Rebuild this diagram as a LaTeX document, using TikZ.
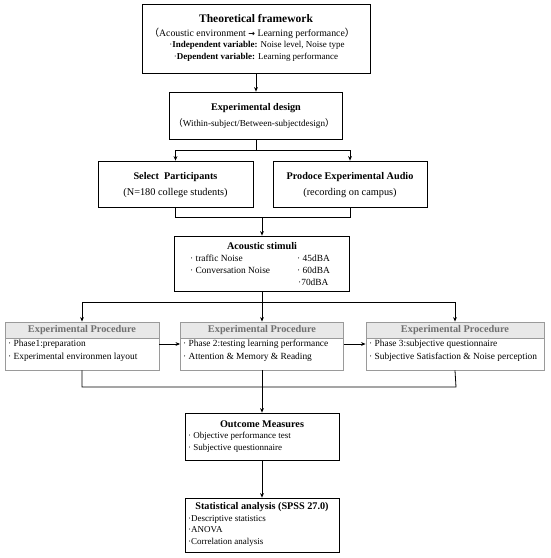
\documentclass[tikz,border=0pt]{standalone}
\usepackage{fontspec}
\setmainfont{Liberation Serif}
\newfontfamily\cjk{Noto Sans CJK SC}
\newfontfamily\arrowfont{DejaVu Sans}
\usetikzlibrary{arrows.meta}
\definecolor{hdrfill}{HTML}{E8E8E8}
\definecolor{hdrtext}{HTML}{707070}
\definecolor{procline}{HTML}{9A9A9A}
\begin{document}
\begin{tikzpicture}[x=1pt,y=-1pt,
  box/.style={draw=black, line width=0.8pt, inner sep=0pt, fill=white},
  proc/.style={draw=procline, line width=0.9pt, inner sep=0pt, fill=white},
  hdr/.style={draw=procline, line width=0.9pt, inner sep=0pt, fill=hdrfill, text=hdrtext, font=\bfseries\fontsize{10.3}{11}\selectfont},
  conn/.style={line width=0.8pt},
  arr/.style={conn, -{Stealth[length=4.5pt,width=3.8pt]}},
  ttl/.style={inner sep=0pt, font=\bfseries\fontsize{10.2}{11}\selectfont},
  bigttl/.style={inner sep=0pt, font=\bfseries\fontsize{11.5}{13}\selectfont},
  subtxt/.style={inner sep=0pt, font=\fontsize{10.3}{11}\selectfont},
  stxt/.style={inner sep=0pt, font=\fontsize{9}{10}\selectfont},
  ptxt/.style={inner sep=0pt, anchor=west, font=\fontsize{9.4}{10}\selectfont},
  ltxt/.style={inner sep=0pt, anchor=west, font=\fontsize{9.4}{10}\selectfont},
  mtxt/.style={inner sep=0pt, anchor=west, font=\fontsize{9}{10}\selectfont}
]
\useasboundingbox (0,0) rectangle (550,558);

% boxes
\node[box, minimum width=228pt, minimum height=69pt] (b1) at (256,38.5) {};
\node[box, minimum width=173pt, minimum height=47pt] (b2) at (256,115.5) {};
\node[box, minimum width=155pt, minimum height=46pt] (b3) at (175.5,184) {};
\node[box, minimum width=154pt, minimum height=46pt] (b4) at (350,184) {};
\node[box, minimum width=175pt, minimum height=55pt] (b5) at (262,263.5) {};
\node[proc, minimum width=154pt, minimum height=48pt] (b6) at (82,346) {};
\node[proc, minimum width=163pt, minimum height=48pt] (b7) at (262,346) {};
\node[proc, minimum width=178pt, minimum height=48pt] (b8) at (455,346) {};
\node[hdr, minimum width=154pt, minimum height=16pt, anchor=north] (h6) at (b6.north) {Experimental Procedure};
\node[hdr, minimum width=163pt, minimum height=16pt, anchor=north] (h7) at (b7.north) {Experimental Procedure};
\node[hdr, minimum width=178pt, minimum height=16pt, anchor=north] (h8) at (b8.north) {Experimental Procedure};
\node[box, minimum width=154pt, minimum height=47pt] (b9) at (262,436.5) {};
\node[box, minimum width=154pt, minimum height=54pt] (b10) at (262,525) {};

% texts box 1
\node[bigttl] (t1a) at (256,19) {Theoretical framework};
\node[inner sep=0pt, font=\fontsize{9.8}{10}\selectfont] (t1b) at (252,33) {{\cjk （}Acoustic environment {\arrowfont\bfseries\fontsize{8}{10}\selectfont →} Learning performance{\cjk ）}};
\node[stxt] (t1c) at (257,45.5) {·\textbf{Independent variable:} Noise level, Noise type};
\node[stxt] (t1d) at (256,57.5) {·\textbf{Dependent variable:} Learning performance};

% box 2
\node[ttl] (t2a) at (256,108) {Experimental design};
\node[inner sep=0pt, font=\fontsize{9.2}{10}\selectfont] (t2b) at (254,124) {{\cjk （}Within-subject/Between-subjectdesign{\cjk ）}};

% box 3, 4
\node[ttl] (t3a) at (175.5,177) {Select\ \ Participants};
\node[subtxt] (t3b) at (175.5,193) {(N=180 college students)};
\node[ttl] (t4a) at (350,177) {Prodoce Experimental Audio};
\node[subtxt] (t4b) at (350,193) {(recording on campus)};

% box 5
\node[ttl] (t5a) at (262,246) {Acoustic stimuli};
\node[ltxt] (t5b) at (190,258) {· traffic Noise};
\node[ltxt] (t5c) at (190,270) {· Conversation Noise};
\node[ltxt] (t5d) at (297,258) {· 45dBA};
\node[ltxt] (t5e) at (297,270) {· 60dBA};
\node[ltxt] (t5f) at (298,282) {·70dBA};

% procedure boxes
\node[ptxt] (t6a) at (8,344) {· Phase1:preparation};
\node[ptxt] (t6b) at (8,357) {· Experimental environmen layout};
\node[ptxt] (t7a) at (183,344) {· Phase 2:testing learning performance};
\node[ptxt] (t7b) at (183,357) {· Attention \& Memory \& Reading};
\node[ptxt] (t8a) at (369,344) {· Phase 3:subjective questionnaire};
\node[ptxt] (t8b) at (369,357) {· Subjective Satisfaction \& Noise perception};

% box 9
\node[ttl] (t9a) at (262,424) {Outcome Measures};
\node[mtxt] (t9b) at (188,436) {· Objective performance test};
\node[mtxt] (t9c) at (188,448) {· Subjective questionnaire};

% box 10
\node[ttl] (t10a) at (262,507) {Statistical analysis (SPSS 27.0)};
\node[mtxt] (t10b) at (188,519) {·Descriptive statistics};
\node[mtxt] (t10c) at (188,530) {·ANOVA};
\node[mtxt] (t10d) at (188,542) {·Correlation analysis};

% connectors
\draw[arr] (b1.south) -- (b2.north);
\coordinate (br) at (256,150);
\draw[conn] (b2.south) -- (br);
\draw[arr] (br) -| (b3.north);
\draw[arr] (br) -| (b4.north);
\coordinate (mg) at (262,217);
\draw[conn] (b3.south) |- (mg);
\draw[conn] (b4.south) |- (mg);
\draw[arr] (mg) -- (b5.north);
\coordinate (br2) at (262,302);
\draw[conn] (b5.south) -- (br2);
\draw[arr] (br2) -| (h6.north);
\draw[arr] (br2) -| (h8.north);
\draw[arr] (br2) -- (h7.north);
\draw[arr] ([yshift=2pt]b6.east) -- ([yshift=2pt]b7.west);
\draw[arr] ([yshift=2pt]b7.east) -- ([yshift=2pt]b8.west);
\coordinate (lp) at (456,387);
\draw[conn] (b6.south) |- (lp) -- (b8.south);
\draw[arr] (b7.south) -- (b9.north);
\draw[arr] (b9.south) -- (b10.north);
\end{tikzpicture}
\end{document}
